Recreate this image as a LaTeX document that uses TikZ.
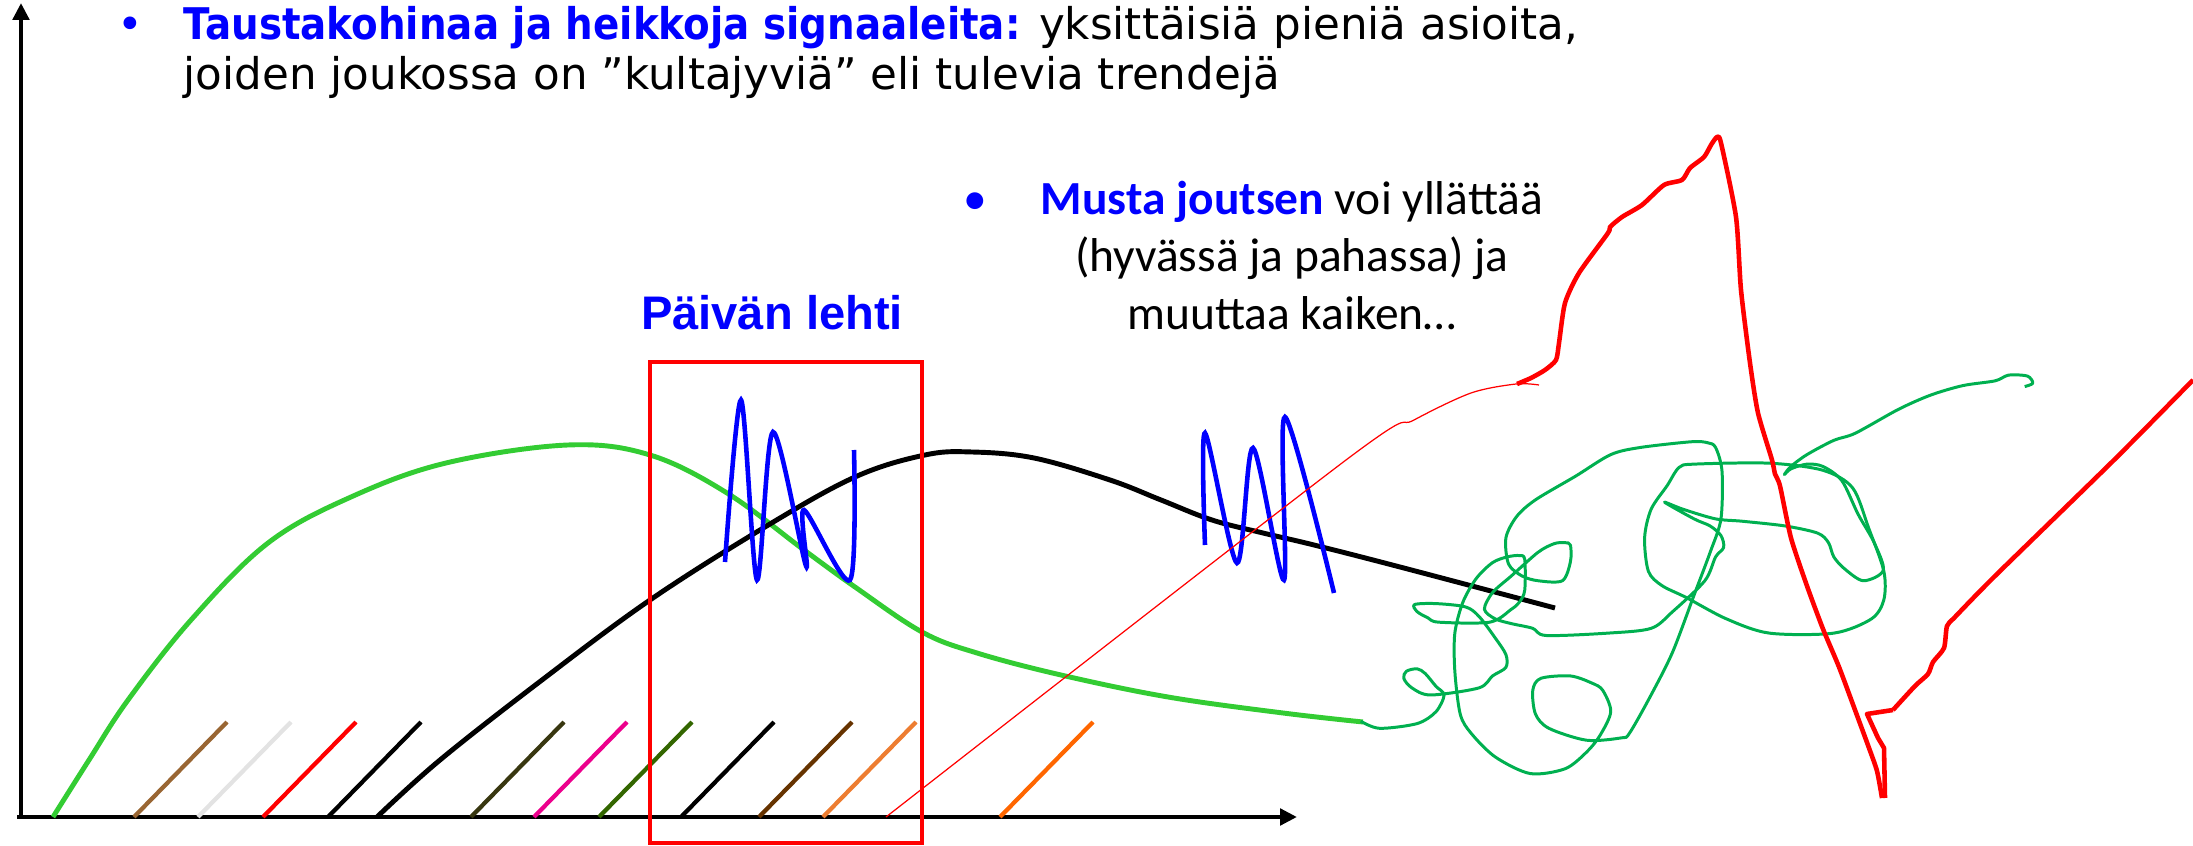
\documentclass[tikz,border=0pt]{standalone}
\usepackage{fontspec}
\setmainfont{DejaVu Sans}
\newfontfamily\calibrifont{Carlito}
\newfontfamily\arialfont{Liberation Sans}
\newfontfamily\narrowbold{DejaVu Sans}[FakeStretch=0.89]
\usetikzlibrary{arrows.meta}

\definecolor{textblue}{HTML}{0000FF}
\definecolor{fadegreen}{HTML}{33CC33}
\definecolor{scribblegreen}{HTML}{00B050}
\definecolor{tickbrown}{HTML}{996633}
\definecolor{tickgray}{HTML}{E3E3E3}
\definecolor{tickolive}{HTML}{383710}
\definecolor{tickgreen}{HTML}{336600}
\definecolor{tickdarkbrown}{HTML}{663300}
\definecolor{tickorange}{HTML}{ED7D31}
\definecolor{tickdeeporange}{HTML}{FF6600}

\newcommand{\toptext}{\fontsize{12.4pt}{14pt}\selectfont}
\newcommand{\swantext}{\calibrifont\fontsize{13.5pt}{16pt}\selectfont}

\begin{document}
\begin{tikzpicture}[x=0.01cm,y=-0.01cm,
  axis/.style={line width=1.4pt,-{Triangle[length=4.8pt,width=4.6pt]}},
  tick/.style={line width=1.2pt},
  curve/.style={line width=1.4pt},
  squiggle/.style={textblue,line width=1.3pt},
  swan/.style={red,line width=1.3pt,line join=round},
  scribble/.style={scribblegreen,line width=0.85pt,line join=round},
  newsbox/.style={draw=red,line width=1.3pt,minimum width=2.72cm,minimum height=4.81cm,inner sep=0pt}]

\useasboundingbox (0,0) rectangle (2193,846);

% axes
\coordinate (origin) at (21,819);
\coordinate (ytop) at (21,3);
\coordinate (xstart) at (17,817);
\coordinate (xend) at (1297,817);
\draw[axis] (origin) -- (ytop);
\draw[axis] (xstart) -- (xend);

% small slashes on the time axis
\foreach \xpos/\tcol in {134/tickbrown,198/tickgray,263/red,328/black,471/tickolive,534/magenta,599/tickgreen,681/black,759/tickdarkbrown,823/tickorange,1000/tickdeeporange}
  \draw[tick,color=\tcol] (\xpos,817) -- ++(93,-95);

% the two trends
\draw[curve,fadegreen] plot[smooth,tension=0.6] coordinates {(53,817) (89,760) (128,700) (191,620) (268,543) (351,497) (446,463) (568,445) (650,455) (727,493) (804,550) (855,587) (922,632) (977,653) (1061,675) (1168,697) (1283,713) (1363,722)};
\draw[curve,black] plot[smooth,tension=0.6] coordinates {(377,817) (440,760) (542,680) (650,600) (765,527) (855,477) (925,455) (972,452) (1034,458) (1110,480) (1161,500) (1212,520) (1263,533) (1314,545) (1400,567) (1555,608)};

% noise
\draw[squiggle] plot[smooth,tension=0.5] coordinates {(725,562) (741,400) (757,580) (773,432) (806,566) (804,510) (850,580) (854,450)};
\draw[squiggle] plot[smooth,tension=0.5] coordinates {(1205,545) (1205,433) (1237,563) (1253,448) (1284,580) (1285,417) (1334,593)};

% chaos
\begin{scope}[shift={(1350,100)},xscale=0.5376,yscale=0.476]
  \draw[scribble] plot[smooth,tension=0.5] coordinates {(20,1305) (55,1320) (125,1310) (160,1285) (175,1250) (160,1232) (140,1205) (125,1195) (105,1200) (100,1215) (115,1235) (150,1250) (240,1235) (265,1210) (290,1192) (290,1165) (270,1130) (240,1085) (215,1065) (160,1058) (120,1060) (125,1075) (145,1088) (165,1097) (260,1097) (300,1070) (315,1055) (325,1030) (325,965) (315,957) (292,960) (265,972) (235,1005) (210,1055) (195,1120) (195,1200) (205,1290) (225,1330) (270,1380) (335,1415) (400,1405) (440,1370) (465,1335) (485,1285) (470,1240) (450,1225) (410,1210) (355,1215) (340,1240) (345,1290) (370,1320) (440,1345) (505,1340) (520,1330) (560,1250) (600,1160) (640,1040) (670,950) (690,880) (692,780) (680,730) (665,720) (635,718) (540,730) (485,745) (420,790) (345,840) (310,875) (290,920) (295,975) (320,1000) (350,1010) (395,1010) (410,970) (410,935) (400,930) (380,932) (350,950) (300,1000) (265,1035) (250,1070) (270,1090) (300,1100) (340,1110) (365,1125) (480,1120) (560,1110) (600,1075) (660,1010) (680,960) (695,940) (690,915) (670,895) (640,880) (585,845) (620,860) (680,880) (730,885) (810,895) (870,910) (890,930) (900,960) (920,985) (955,1010) (992,988) (975,930) (945,870) (915,800) (880,770) (850,765) (820,775) (808,787) (820,770) (850,745) (900,715) (940,700) (1020,650) (1080,620) (1140,600) (1200,590) (1225,578) (1260,580) (1270,595) (1255,602)};
  \draw[scribble] plot[smooth cycle,tension=0.5] coordinates {(880,778) (935,815) (965,900) (993,990) (993,1050) (970,1090) (900,1120) (780,1120) (700,1090) (625,1045) (580,1020) (555,990) (548,920) (560,860) (590,810) (612,772) (640,765) (780,763)};
\end{scope}

% black swan
\draw[red,line width=0.35pt] plot[smooth] coordinates {(886,817) (1346,460) (1414,420) (1471,393) (1516,384) (1539,385)};
\draw[swan] plot[smooth,tension=0.4] coordinates {(1517,384) (1531,378) (1545,370) (1556,360) (1559,343) (1565,303) (1579,273) (1608,233) (1610,227) (1622,217) (1642,205) (1664,185) (1682,180) (1690,168) (1704,157) (1711,145) (1717,137) (1721,143) (1736,217) (1741,290) (1750,363) (1758,413) (1772,460) (1775,474) (1780,486) (1791,538) (1807,586) (1823,629) (1839,667) (1855,710) (1869,748) (1877,771) (1882,798)};
\draw[swan] (1885,798) -- (1884,748) -- (1878,738) -- (1867,714) -- (1893,710) plot[smooth,tension=0.4] coordinates {(1893,710) (1915,686) (1928,674) (1933,662) (1944,648) (1947,626) (1955,617) (1995,576) (2114,460) (2193,380)};

% today's paper
\node[newsbox] (window) at (786,602.5) {};
\node[anchor=base,inner sep=0pt,text=textblue,font=\arialfont\bfseries\fontsize{13.4pt}{16pt}\selectfont] (paper) at (772,330) {Päivän lehti};

% texts
\node[anchor=base,inner sep=0pt,text=textblue,font=\toptext] (bulletA) at (130,40) {•};
\node[anchor=base west,inner sep=0pt,font=\toptext] (signals) at (183,40) {{\narrowbold\bfseries\color{textblue}Taustakohinaa ja heikkoja signaaleita:} yksittäisiä pieniä asioita,};
\node[anchor=base west,inner sep=0pt,font=\toptext] (grains) at (183,90) {joiden joukossa on ”kultajyviä” eli tulevia trendejä};

\node[anchor=base,inner sep=0pt,text=textblue,font=\swantext] (bulletB) at (975,215) {•};
\node[anchor=base,inner sep=0pt,font=\swantext] (swanA) at (1292,215) {{\bfseries\color{textblue}Musta joutsen} voi yllättää};
\node[anchor=base,inner sep=0pt,font=\swantext] (swanB) at (1292,272) {(hyvässä ja pahassa) ja};
\node[anchor=base,inner sep=0pt,font=\swantext] (swanC) at (1292,330) {muuttaa kaiken…};

\end{tikzpicture}
\end{document}
